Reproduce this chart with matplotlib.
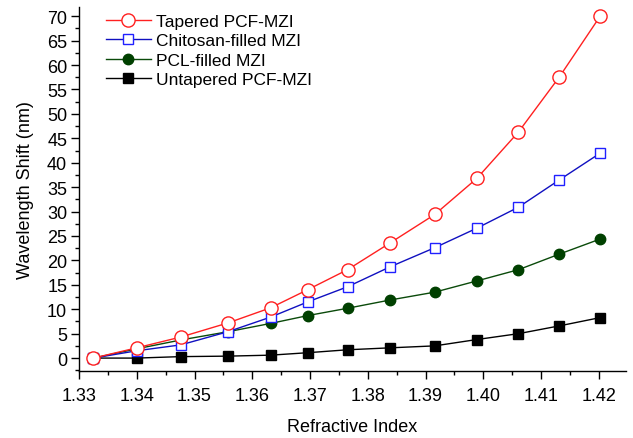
import matplotlib
matplotlib.use("Agg")
import matplotlib.pyplot as plt
from matplotlib.ticker import MultipleLocator

plt.rcParams['font.family'] = ['Liberation Sans', 'DejaVu Sans']

ri = [1.3325, 1.3400, 1.3476, 1.3558, 1.3632, 1.3696, 1.3765, 1.3839,
      1.3916, 1.3989, 1.4061, 1.4132, 1.4203]
tapered = [0.0, 2.1, 4.3, 7.2, 10.3, 14.0, 18.1, 23.6, 29.4, 36.8, 46.3, 57.6, 70.1]
chitosan = [0.0, 1.5, 2.7, 5.4, 8.4, 11.5, 14.6, 18.7, 22.6, 26.6, 30.9, 36.5, 42.0]
pcl = [0.0, 1.9, 3.7, 5.4, 7.1, 8.7, 10.2, 11.9, 13.5, 15.8, 18.1, 21.3, 24.4]
untapered = [0.0, 0.0, 0.3, 0.4, 0.6, 1.1, 1.7, 2.1, 2.5, 3.8, 5.0, 6.6, 8.3]

series_names = ["Tapered PCF-MZI", "Chitosan-filled MZI", "PCL-filled MZI", "Untapered PCF-MZI"]

fig = plt.figure(figsize=(6.33, 4.39), dpi=100)
ax = fig.add_axes([0.1248, 0.152, 0.864, 0.830])

ax.plot(ri, tapered, color='#FF2020', lw=1.0, marker='o', ms=9.5, mfc='white',
        mec='#FF2020', mew=1.0, label=series_names[0], zorder=5)
ax.plot(ri, chitosan, color='#1010C0', lw=1.0, marker='s', ms=6.5, mfc='white',
        mec='#2020FF', mew=1.0, label=series_names[1], zorder=4)
ax.plot(ri, pcl, color='#0A4A0A', lw=1.0, marker='o', ms=7.5, mfc='#004000',
        mec='#004000', label=series_names[2], zorder=3)
ax.plot(ri, untapered, color='black', lw=1.0, marker='s', ms=6.5, mfc='black',
        mec='black', label=series_names[3], zorder=2)

ax.set_xlim(1.33, 1.4247)
ax.set_ylim(-2.7, 71.9)
ax.xaxis.set_major_locator(MultipleLocator(0.01))
ax.xaxis.set_minor_locator(MultipleLocator(0.005))
ax.yaxis.set_major_locator(MultipleLocator(5))
ax.yaxis.set_minor_locator(MultipleLocator(2.5))
ax.xaxis.set_major_formatter(plt.FuncFormatter(lambda v, p: f"{v:.2f}"))

for s in ['top', 'right']:
    ax.spines[s].set_visible(False)
for s in ['left', 'bottom']:
    ax.spines[s].set_linewidth(1.0)

ax.tick_params(which='major', direction='out', length=5.5, width=1.0, labelsize=13)
ax.tick_params(axis='x', which='major', pad=6)
ax.tick_params(axis='y', which='major', pad=3)
ax.tick_params(which='minor', direction='out', length=3, width=1.0)

ax.set_xlabel("Refractive Index", fontsize=13, labelpad=10)
ax.set_ylabel("Wavelength Shift (nm)", fontsize=13, labelpad=9)

leg = ax.legend(loc='upper left', bbox_to_anchor=(0.03, 1.01), frameon=False,
                fontsize=12.5, handlelength=2.6, handletextpad=0.3,
                labelspacing=0.25, borderaxespad=0.2)

fig.savefig("out.png", dpi=100)
